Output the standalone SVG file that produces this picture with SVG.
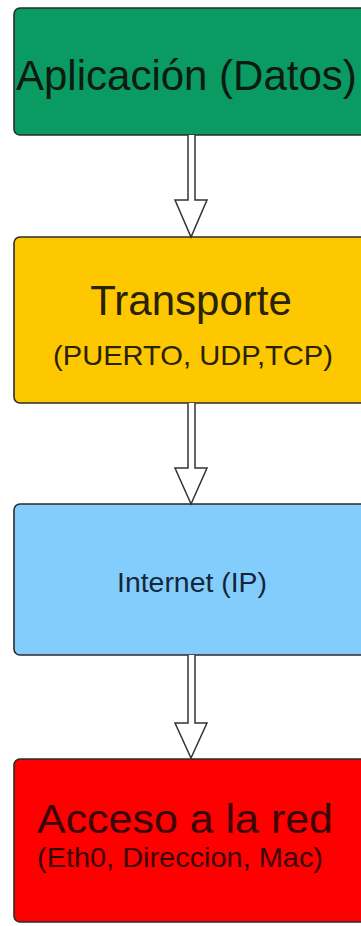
<svg xmlns="http://www.w3.org/2000/svg" width="361" height="926" viewBox="0 0 361 926">
<style>
.box{stroke:#2b2b2b;stroke-width:1.6}
.t{font-family:"Liberation Sans",Arial,sans-serif}
.arrow{fill:#ffffff;stroke:#333333;stroke-width:1.5;stroke-linejoin:miter}
</style>
<rect width="361" height="926" fill="#ffffff"/>
<g id="aplicacion">
<rect class="box" x="14" y="8" width="360" height="127" rx="6" fill="#0a9b63"/>
<text class="t" x="16" y="90" font-size="42" fill="#0d1a12">Aplicación (Datos)</text>
</g>
<g id="transporte">
<rect class="box" x="14" y="237" width="360" height="166" rx="6" fill="#fdc800"/>
<text class="t" x="191" y="315" font-size="42" fill="#2a2206" text-anchor="middle">Transporte</text>
<text class="t" x="193" y="365" font-size="28" fill="#2a2206" text-anchor="middle" textLength="280" lengthAdjust="spacingAndGlyphs">(PUERTO, UDP,TCP)</text>
</g>
<g id="internet">
<rect class="box" x="14" y="504" width="360" height="151" rx="6" fill="#82cdfc"/>
<text class="t" x="192" y="592" font-size="27" fill="#14263a" text-anchor="middle" textLength="150" lengthAdjust="spacingAndGlyphs">Internet (IP)</text>
</g>
<g id="acceso">
<rect class="box" x="14" y="759" width="360" height="163" rx="6" fill="#fe0000"/>
<text class="t" x="37" y="833" font-size="41" fill="#3a0606" textLength="296" lengthAdjust="spacingAndGlyphs">Acceso a la red</text>
<text class="t" x="37" y="867" font-size="27" fill="#3a0606" textLength="286" lengthAdjust="spacingAndGlyphs">(Eth0, Direccion, Mac)</text>
</g>
<g id="connectors">
<path class="arrow" d="M188,135 L188,200 L175,200 L191,237 L207,200 L195,200 L195,135"/>
<path class="arrow" d="M188,403 L188,468 L175,468 L191,504 L207,468 L195,468 L195,403"/>
<path class="arrow" d="M188,655 L188,723 L175,723 L191,758 L207,723 L195,723 L195,655"/>
</g>
</svg>
